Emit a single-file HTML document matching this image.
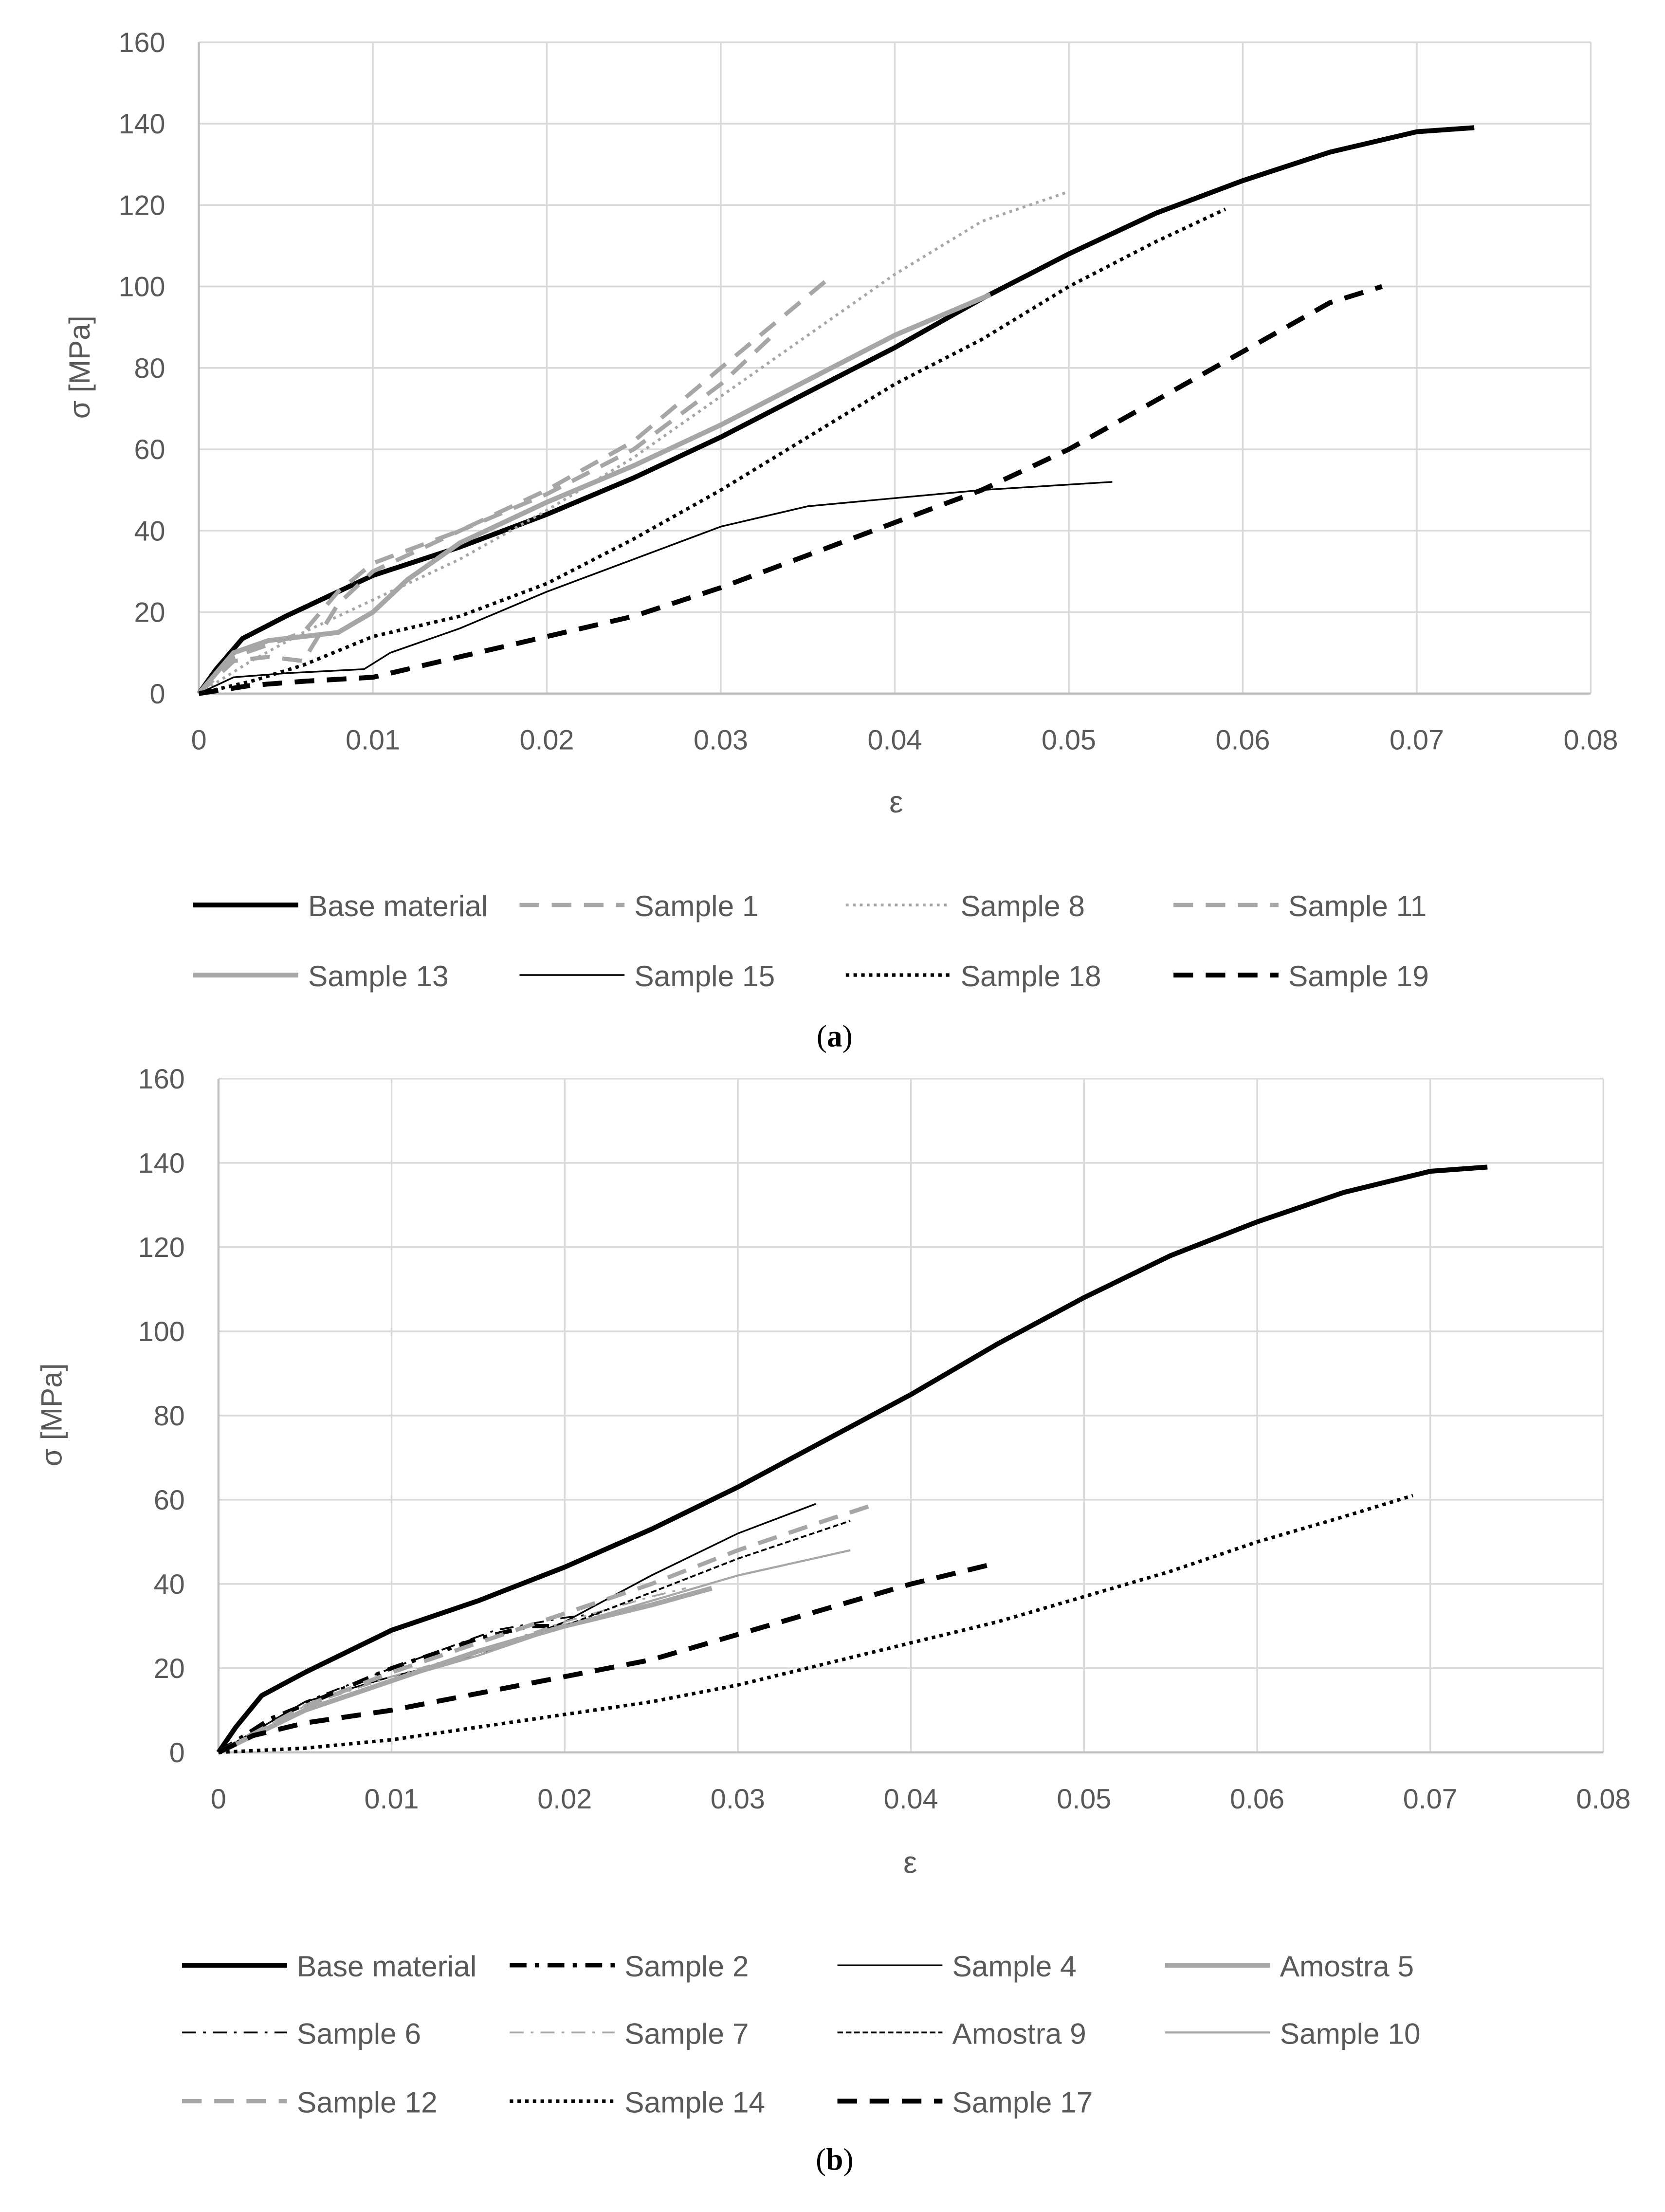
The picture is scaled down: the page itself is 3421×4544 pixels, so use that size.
<!DOCTYPE html>
<html><head><meta charset="utf-8"><style>
html,body{margin:0;padding:0;background:#fff}
svg{display:block}
text{font-family:"Liberation Sans","DejaVu Sans",sans-serif;fill:#595959}
</style></head><body>
<svg id="fig" width="3421" height="4544" viewBox="0 0 1189 1579" xmlns="http://www.w3.org/2000/svg"></svg>
<script>
// ---------- data ----------
const xTicks=[0,0.01,0.02,0.03,0.04,0.05,0.06,0.07,0.08];
const xTickLabels=["0","0.01","0.02","0.03","0.04","0.05","0.06","0.07","0.08"];
const yTicks=[0,20,40,60,80,100,120,140,160];
const baseX=[0,0.001,0.0025,0.005,0.01,0.015,0.02,0.025,0.03,0.035,0.04,0.045,0.05,0.055,0.06,0.065,0.07,0.0733];
const baseY=[0,6,13.5,19,29,36,44,53,63,74,85,97,108,118,126,133,138,139];
// chart a
const a1X=[0,0.002,0.004,0.006,0.008,0.01,0.015,0.02,0.025,0.03,0.0365];
const a1Y=[0,9,12,15,25,32,40,50,62,80,103];
const a8X=[0,0.003,0.006,0.01,0.015,0.02,0.025,0.03,0.035,0.04,0.045,0.0498];
const a8Y=[0,8,15,23,33,45,58,73,88,103,116,123];
const a11X=[0,0.002,0.004,0.006,0.008,0.01,0.015,0.02,0.025,0.03,0.033];
const a11Y=[0,8,9,8,22,30,40,49,60,76,88];
const a13X=[0,0.002,0.004,0.008,0.01,0.012,0.015,0.02,0.025,0.03,0.035,0.04,0.0455];
const a13Y=[0,10,13,15,20,28,37,47,56,66,77,88,98];
const a15X=[0,0.002,0.005,0.0095,0.011,0.015,0.02,0.025,0.03,0.035,0.04,0.045,0.0525];
const a15Y=[0,4,5,6,10,16,25,33,41,46,48,50,52];
const a18X=[0,0.003,0.006,0.01,0.015,0.02,0.025,0.03,0.035,0.04,0.045,0.05,0.055,0.059];
const a18Y=[0,3,7,14,19,27,38,50,63,76,87,100,111,119];
const a19X=[0,0.003,0.006,0.01,0.015,0.02,0.025,0.03,0.035,0.04,0.045,0.05,0.055,0.06,0.065,0.068];
const a19Y=[0,2,3,4,9,14,19,26,34,42,50,60,72,84,96,100];
// chart b
const b2X=[0,0.003,0.006,0.01,0.015,0.018,0.02,0.022,0.024];
const b2Y=[0,8,13,20,27,30,30,32,34];
const b4X=[0,0.005,0.01,0.015,0.02,0.025,0.03,0.0345];
const b4Y=[0,12,18,23,31,42,52,59];
const b5X=[0,0.005,0.01,0.015,0.02,0.025,0.0285];
const b5Y=[0,10,17,24,30,35,39];
const b6X=[0,0.005,0.01,0.016,0.02,0.022];
const b6Y=[0,12,20,29,32,33];
const b7X=[0,0.005,0.01,0.015,0.02,0.025,0.027];
const b7Y=[0,11,18,24,31,37,39];
const b9X=[0,0.005,0.01,0.015,0.02,0.025,0.03,0.0365];
const b9Y=[0,10,17,23,30,38,46,55];
const b10X=[0,0.005,0.01,0.015,0.02,0.025,0.03,0.0365];
const b10Y=[0,10,17,23,30,36,42,48];
const b12X=[0,0.005,0.01,0.015,0.02,0.025,0.03,0.035,0.038];
const b12Y=[0,11,19,26,33,40,48,55,59];
const b14X=[0,0.005,0.01,0.015,0.02,0.025,0.03,0.035,0.04,0.045,0.05,0.055,0.06,0.065,0.069];
const b14Y=[0,1,3,6,9,12,16,21,26,31,37,43,50,56,61];
const b17X=[0,0.002,0.005,0.01,0.015,0.02,0.025,0.03,0.035,0.04,0.045];
const b17Y=[0,4,7,10,14,18,22,28,34,40,45];

// ---------- styles ----------
const ST={
 base:{c:"#000",w:3.5,d:""},
 gDash:{c:"#a6a6a6",w:3,d:"14,9"},
 gDot:{c:"#a6a6a6",w:2,d:"2,3"},
 gSolid:{c:"#a6a6a6",w:3.5,d:""},
 thin:{c:"#000",w:1.2,d:""},
 kDot:{c:"#000",w:2.5,d:"2.5,3"},
 kDash:{c:"#000",w:3.5,d:"14,9"},
 kDashDot:{c:"#000",w:3,d:"12,6,3,6"},
 kDashDotThin:{c:"#000",w:1.3,d:"10,5,2,5"},
 gDashDot:{c:"#a6a6a6",w:1.3,d:"10,5,2,5"},
 kShortDash:{c:"#000",w:1.3,d:"4,2"},
 gThin:{c:"#a6a6a6",w:1.5,d:""}
};
const NS="http://www.w3.org/2000/svg";
const svg=document.getElementById('fig');
function el(t,at,p){const e=document.createElementNS(NS,t);for(const k in at)e.setAttribute(k,at[k]);(p||svg).appendChild(e);return e;}

function chart(cfg){
 const g=el('g',{});
 
 
 const sx=v=>cfg.x0+(v/0.08)*(cfg.x1-cfg.x0);
 const sy=v=>cfg.y0-(v/160)*(cfg.y0-cfg.y1);
 yTicks.forEach(t=>{
  const l=el('line',{x1:cfg.x0,x2:cfg.x1,y1:sy(t),y2:sy(t),stroke:"#d9d9d9","stroke-width":1.2},g);
  
  
  const tx=el('text',{x:cfg.x0-24,y:sy(t)+7,"text-anchor":"end","font-size":20},g);
  tx.textContent=String(t);
  
  
 });
 xTicks.forEach((t,i)=>{
  const l=el('line',{x1:sx(t),x2:sx(t),y1:cfg.y0,y2:cfg.y1,stroke:"#d9d9d9","stroke-width":1.2},g);
  
  
  const tx=el('text',{x:sx(t),y:cfg.y0+40,"text-anchor":"middle","font-size":20},g);
  tx.textContent=xTickLabels[i];
  
  
 });
 const ax=el('line',{x1:cfg.x0,x2:cfg.x0,y1:cfg.y0,y2:cfg.y1,stroke:"#bfbfbf","stroke-width":1.5},g);
 
 const ax2=el('line',{x1:cfg.x0,x2:cfg.x1,y1:cfg.y0,y2:cfg.y0,stroke:"#bfbfbf","stroke-width":1.5},g);
 
 cfg.series.forEach(s=>{
  const st=ST[s.st];
  const d=s.x.map((v,i)=>(i?'L':'M')+sx(v).toFixed(1)+' '+sy(s.y[i]).toFixed(1)).join(' ');
  const p=el('path',{d:d,fill:"none",stroke:st.c,"stroke-width":st.w,"stroke-dasharray":st.d,"stroke-linejoin":"round"},g);
  
  
 });
 const xl=el('text',{x:cfg.xl[0],y:cfg.xl[1],"text-anchor":"middle","font-size":22},g);
 xl.textContent="ε";
 
 const yl=el('text',{x:0,y:0,"text-anchor":"middle","font-size":21,transform:`translate(${cfg.yl[0]},${cfg.yl[1]}) rotate(-90)`},g);
 yl.textContent=cfg.ylText;
 
 // legend
 cfg.series.forEach((s,i)=>{
  const st=ST[s.st];
  const r=Math.floor(i/4),c=i%4;
  const lx=cfg.legX[c],ly=cfg.legY[r];
  const lg=el('g',{},g);
  
  
  el('line',{x1:lx,x2:lx+75,y1:ly,y2:ly,stroke:st.c,"stroke-width":st.w,"stroke-dasharray":st.d},lg);
  const t=el('text',{x:lx+82,y:ly+8,"font-size":21},lg);
  t.textContent=s.label;
 });
 const cap=el('text',{x:596,y:cfg.cap,"text-anchor":"middle","font-size":22,style:"font-family:'Liberation Serif',serif;fill:#000"},g);
 cap.innerHTML='(<tspan font-weight="bold">'+cfg.capL+'</tspan>)';
 
}

chart({name:'chart-a',x0:142,x1:1136,y0:495,y1:30,xl:[640,580],yl:[64,262],ylText:"σ  [MPa]",
 legX:[138,371,604,838],legY:[646,696],cap:747,capL:'a',
 series:[
  {id:'base',label:'Base material',x:baseX,y:baseY,st:'base'},
  {id:'s1',label:'Sample 1',x:a1X,y:a1Y,st:'gDash'},
  {id:'s8',label:'Sample 8',x:a8X,y:a8Y,st:'gDot'},
  {id:'s11',label:'Sample 11',x:a11X,y:a11Y,st:'gDash'},
  {id:'s13',label:'Sample 13',x:a13X,y:a13Y,st:'gSolid'},
  {id:'s15',label:'Sample 15',x:a15X,y:a15Y,st:'thin'},
  {id:'s18',label:'Sample 18',x:a18X,y:a18Y,st:'kDot'},
  {id:'s19',label:'Sample 19',x:a19X,y:a19Y,st:'kDash'}
 ]});
chart({name:'chart-b',x0:156,x1:1145,y0:1251,y1:770,xl:[650,1337],yl:[44,1010],ylText:"σ [MPa]",
 legX:[130,364,598,832],legY:[1403,1451,1500],cap:1549,capL:'b',
 series:[
  {id:'base',label:'Base material',x:baseX,y:baseY,st:'base'},
  {id:'s2',label:'Sample 2',x:b2X,y:b2Y,st:'kDashDot'},
  {id:'s4',label:'Sample 4',x:b4X,y:b4Y,st:'thin'},
  {id:'a5',label:'Amostra 5',x:b5X,y:b5Y,st:'gSolid'},
  {id:'s6',label:'Sample 6',x:b6X,y:b6Y,st:'kDashDotThin'},
  {id:'s7',label:'Sample 7',x:b7X,y:b7Y,st:'gDashDot'},
  {id:'a9',label:'Amostra 9',x:b9X,y:b9Y,st:'kShortDash'},
  {id:'s10',label:'Sample 10',x:b10X,y:b10Y,st:'gThin'},
  {id:'s12',label:'Sample 12',x:b12X,y:b12Y,st:'gDash'},
  {id:'s14',label:'Sample 14',x:b14X,y:b14Y,st:'kDot'},
  {id:'s17',label:'Sample 17',x:b17X,y:b17Y,st:'kDash'}
 ]});
</script>
</body></html>
